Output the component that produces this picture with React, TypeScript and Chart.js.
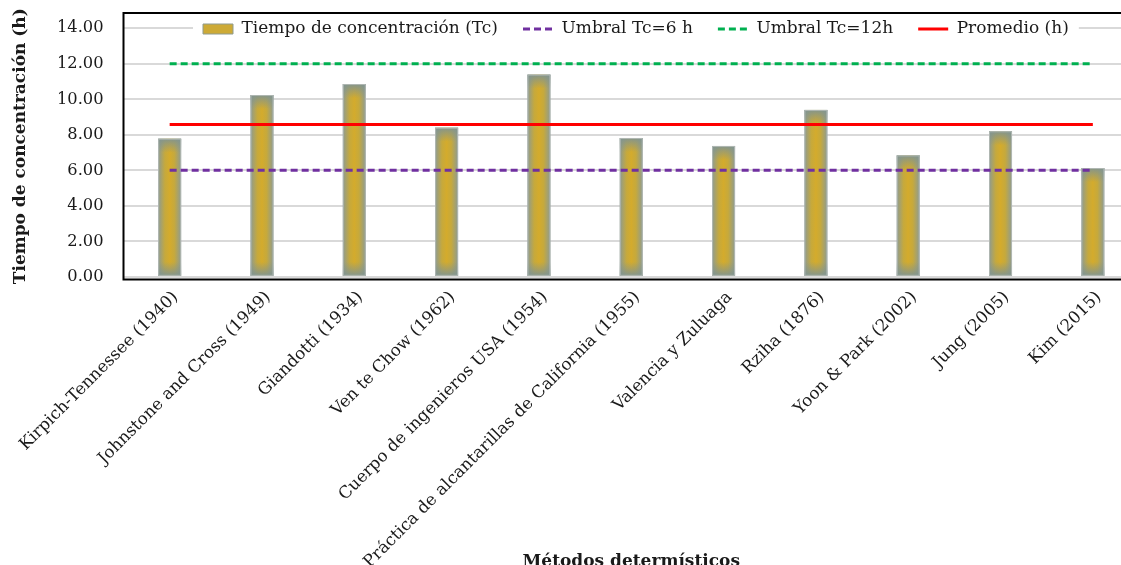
import React, { useEffect, useRef } from "react";
import { Chart, registerables } from "chart.js";

Chart.register(...registerables);

const categories = [
  "Kirpich-Tennessee (1940)",
  "Johnstone and Cross (1949)",
  "Giandotti (1934)",
  "Ven te Chow (1962)",
  "Cuerpo de ingenieros USA (1954)",
  "Práctica de alcantarillas de California (1955)",
  "Valencia y Zuluaga",
  "Rziha (1876)",
  "Yoon & Park (2002)",
  "Jung (2005)",
  "Kim (2015)",
];
const tiempoTc = [7.78, 10.24, 10.86, 8.4, 11.39, 7.82, 7.37, 9.4, 6.84, 8.2, 6.13];
const umbral6 = [6, 6, 6, 6, 6, 6, 6, 6, 6, 6, 6];
const umbral12 = [12, 12, 12, 12, 12, 12, 12, 12, 12, 12, 12];
const promedio = [8.58, 8.58, 8.58, 8.58, 8.58, 8.58, 8.58, 8.58, 8.58, 8.58, 8.58];
const yTicks = [0, 2, 4, 6, 8, 10, 12, 14];

const seriesLabels = ["Tiempo de concentración (Tc)", "Umbral Tc=6 h", "Umbral Tc=12h", "Promedio (h)"];
const yTitle = "Tiempo de concentración (h)";
const xTitle = "Métodos determísticos";

const FONT = "'DejaVu Serif', 'Liberation Serif', serif";
const TEXT = "#1a1a1a";

const customPlugin = {
  id: "customPlugin",
  beforeLayout(chart: any) {
    const lg = chart.legend;
    if (lg && !lg.__patched) {
      lg.__patched = true;
      const proto = Object.getPrototypeOf(lg);
      lg.fit = function () {
        proto.fit.call(this);
        this.height = 0;
      };
      lg.draw = function () {
        const ctx = this.ctx;
        const w = this.lineWidths ? this.lineWidths[0] : 0;
        ctx.save();
        ctx.fillStyle = "#ffffff";
        ctx.fillRect(this.left + 15, 20, w - 5, 18);
        ctx.restore();
        proto.draw.call(this);
      };
    }
  },
  afterLayout(chart: any) {
    const lg = chart.legend;
    const ca = chart.chartArea;
    if (!lg) return;
    const pad = lg.options.labels.padding;
    const fs = lg.options.labels.font.size;
    lg.left = ca.left + 54.5;
    lg.right = chart.width;
    lg.width = lg.right - lg.left;
    lg.top = ca.top + 16 - pad - fs / 2;
    lg.height = 60;
    lg.bottom = lg.top + 60;
  },
  beforeDatasetDraw(chart: any, args: any) {
    if (args.index !== 0) return;
    const ctx = chart.ctx;
    ctx.save();
    args.meta.data.forEach((el: any) => {
      const { x, y, base, width } = el.getProps(["x", "y", "base", "width"], true);
      const left = x - width / 2;
      const top = Math.min(y, base);
      const h = Math.abs(base - y);
      const g = ctx.createLinearGradient(left, 0, left + width, 0);
      g.addColorStop(0, "#8d9b92");
      g.addColorStop(0.3, "#c6a93c");
      g.addColorStop(0.5, "#d4ab2c");
      g.addColorStop(0.7, "#c6a93c");
      g.addColorStop(1, "#8d9b92");
      ctx.fillStyle = g;
      ctx.fillRect(left, top, width, h);
      const fade = Math.min(14, h / 2);
      const gt = ctx.createLinearGradient(0, top, 0, top + fade);
      gt.addColorStop(0, "rgba(128,148,145,0.95)");
      gt.addColorStop(1, "rgba(128,148,145,0)");
      ctx.fillStyle = gt;
      ctx.fillRect(left, top, width, fade);
      const gb = ctx.createLinearGradient(0, top + h, 0, top + h - fade);
      gb.addColorStop(0, "rgba(128,148,145,0.95)");
      gb.addColorStop(1, "rgba(128,148,145,0)");
      ctx.fillStyle = gb;
      ctx.fillRect(left, top + h - fade, width, fade);
      ctx.strokeStyle = "rgba(180,186,182,0.9)";
      ctx.lineWidth = 1;
      ctx.strokeRect(left + 0.5, top + 0.5, width - 1, h - 1);
    });
    ctx.restore();
    return false;
  },
  afterDatasetsDraw(chart: any) {
    const ctx = chart.ctx;
    const ca = chart.chartArea;
    ctx.save();
    ctx.strokeStyle = "#000000";
    ctx.lineWidth = 2;
    ctx.beginPath();
    ctx.moveTo(chart.width + 5, ca.top);
    ctx.lineTo(ca.left, ca.top);
    ctx.lineTo(ca.left, ca.bottom);
    ctx.lineTo(chart.width + 5, ca.bottom);
    ctx.stroke();
    ctx.restore();
  },
};

export default function App() {
  const canvasRef = useRef<HTMLCanvasElement | null>(null);

  useEffect(() => {
    const canvas = canvasRef.current;
    if (!canvas) return;
    const chart = new Chart(canvas, {
      type: "bar",
      data: {
        labels: categories,
        datasets: [
          {
            type: "bar",
            label: seriesLabels[0],
            data: tiempoTc,
            backgroundColor: "#cdaa36",
            borderColor: "#8f9b8e",
            borderWidth: 1,
            barThickness: 23,
            pointStyle: "rect",
            order: 2,
          } as any,
          {
            type: "line",
            label: seriesLabels[1],
            data: umbral6,
            borderColor: "#7030a0",
            backgroundColor: "#7030a0",
            borderWidth: 3,
            borderDash: [7, 4],
            pointRadius: 0,
            pointStyle: "line",
            order: 1,
          } as any,
          {
            type: "line",
            label: seriesLabels[2],
            data: umbral12,
            borderColor: "#00b050",
            backgroundColor: "#00b050",
            borderWidth: 3,
            borderDash: [7, 4],
            pointRadius: 0,
            pointStyle: "line",
            order: 1,
          } as any,
          {
            type: "line",
            label: seriesLabels[3],
            data: promedio,
            borderColor: "#ff0000",
            backgroundColor: "#ff0000",
            borderWidth: 3,
            pointRadius: 0,
            pointStyle: "line",
            order: 1,
          } as any,
        ],
      },
      options: {
        responsive: false,
        animation: false,
        devicePixelRatio: 1,
        layout: { padding: { top: 13, left: 8, right: 6, bottom: 0 } },
        plugins: {
          tooltip: { enabled: false },
          legend: {
            position: "top",
            align: "start",
            labels: {
              usePointStyle: true,
              pointStyleWidth: 30,
              boxHeight: 10,
              padding: 25,
              color: TEXT,
              font: { family: FONT, size: 17 },
              sort: (a: any, b: any) => a.datasetIndex - b.datasetIndex,
              generateLabels: (chart: any) => {
                const items = (Chart.defaults as any).plugins.legend.labels.generateLabels(chart);
                items.forEach((it: any) => {
                  const ds = chart.data.datasets[it.datasetIndex];
                  it.lineDash = ds.borderDash || [];
                  it.lineWidth = ds.type === "line" ? 3 : 1;
                  it.strokeStyle = ds.borderColor;
                  it.fillStyle = ds.backgroundColor;
                });
                return items;
              },
            },
          },
        },
        scales: {
          x: {
            offset: true,
            grid: { display: false },
            border: { display: false },
            ticks: {
              autoSkip: false,
              maxRotation: 45,
              minRotation: 45,
              padding: 0,
              labelOffset: 6,
              color: TEXT,
              font: { family: FONT, size: 16.75 },
            },
            title: {
              display: true,
              text: xTitle,
              color: TEXT,
              padding: { top: 4, bottom: 3 },
              font: { family: FONT, size: 17, weight: "bold" },
            },
            afterFit: (scale: any) => {
              scale.height = 295.5;
            },
          },
          y: {
            min: -0.15,
            max: 14.86,
            grid: { color: "#d9d9d9", lineWidth: 2, drawTicks: false },
            border: { display: false },
            afterBuildTicks: (scale: any) => {
              scale.ticks = yTicks.map((v) => ({ value: v }));
            },
            ticks: {
              padding: 20,
              color: TEXT,
              font: { family: FONT, size: 16.25 },
              callback: (v: any) => Number(v).toFixed(2),
            },
            title: {
              display: true,
              text: yTitle,
              color: TEXT,
              padding: { top: 2, bottom: 20 },
              font: { family: FONT, size: 17, weight: "bold" },
            },
            afterFit: (scale: any) => {
              scale.width = 115.5;
              scale.paddingTop = 0;
              scale.paddingBottom = 0;
            },
          },
        },
      },
      plugins: [customPlugin as any],
    });
    return () => chart.destroy();
  }, []);

  return (
    <div
      style={{
        position: "fixed",
        left: 0,
        top: 0,
        width: 1121,
        height: 565,
        overflow: "hidden",
        background: "#ffffff",
      }}
    >
      <canvas ref={canvasRef} width={1145} height={575} style={{ display: "block", width: 1145, height: 575 }} />
    </div>
  );
}
